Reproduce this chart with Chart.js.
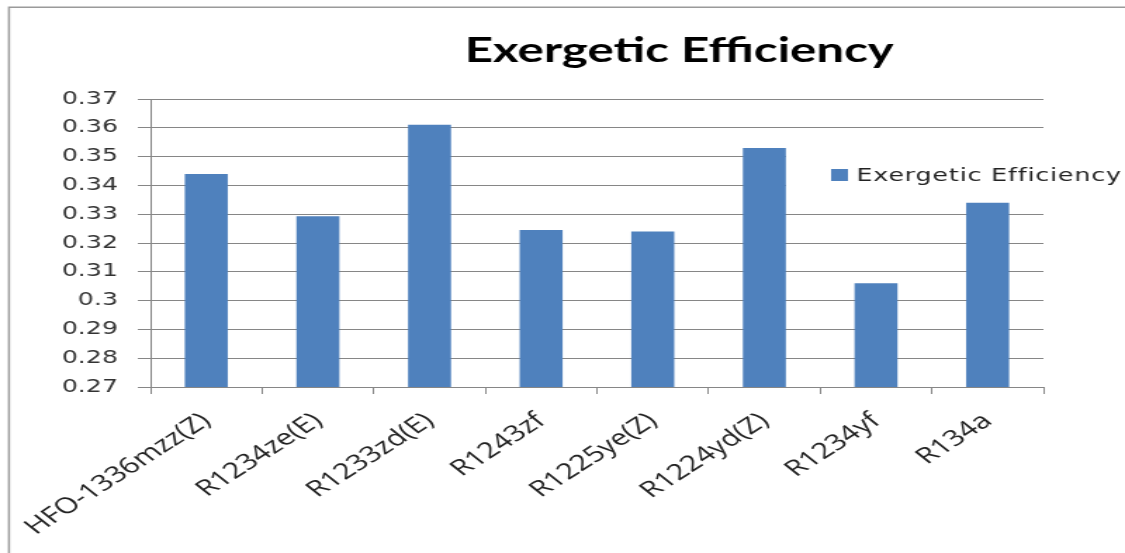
<!DOCTYPE html>
<html>
<head>
<meta charset="utf-8">
<script src="https://cdn.jsdelivr.net/npm/chart.js@4.4.1/dist/chart.umd.min.js"></script>
<style>
  html, body { margin: 0; padding: 0; background: #fff; }
</style>
</head>
<body>
<!-- drawn narrow then stretched, like the original picture -->
<canvas id="grafico" width="800" height="553" style="width:1125px;height:553px;display:block"></canvas>
<script>
const categorias = ['HFO-1336mzz(Z)', 'R1234ze(E)', 'R1233zd(E)', 'R1243zf', 'R1225ye(Z)', 'R1224yd(Z)', 'R1234yf', 'R134a'];
const eficiencia = [0.344, 0.3293, 0.3611, 0.3245, 0.324, 0.353, 0.306, 0.334];
const serieNome = 'Exergetic Efficiency';
const titulo = 'Exergetic Efficiency';
const yMin = 0.27;
const yMax = 0.37;
const yPasso = 0.01;

const cinza = '#868686';
const azul = '#4F81BD';

// moldura, caixa branca da legenda e titulo
const extras = {
  id: 'extras',
  beforeDatasetsDraw(chart) {
    const ctx = chart.ctx;
    ctx.save();
    ctx.fillStyle = '#fff';
    ctx.fillRect(559, 140, 241, 60);
    ctx.restore();
  },
  afterDraw(chart) {
    const ctx = chart.ctx;
    ctx.save();
    ctx.strokeStyle = '#9a9a9a';
    ctx.lineWidth = 1.5;
    ctx.beginPath();
    ctx.moveTo(6.4, 553);
    ctx.lineTo(6.4, 7.3);
    ctx.lineTo(800, 7.3);
    ctx.stroke();

    ctx.fillStyle = '#000';
    ctx.font = 'bold 35px Lato';
    ctx.textAlign = 'center';
    ctx.textBaseline = 'alphabetic';
    ctx.fillText(titulo, 483, 62);

    ctx.fillStyle = azul;
    ctx.fillRect(591, 169, 12, 12);
    ctx.fillStyle = '#222';
    ctx.font = '18px "DejaVu Sans"';
    ctx.textAlign = 'left';
    ctx.letterSpacing = '0.6px';
    ctx.fillText(serieNome, 609, 181);
    ctx.restore();
  }
};

new Chart(document.getElementById('grafico').getContext('2d'), {
  type: 'bar',
  data: {
    labels: categorias,
    datasets: [{
      label: serieNome,
      data: eficiencia,
      backgroundColor: azul,
      barPercentage: 0.385,
      categoryPercentage: 1
    }]
  },
  options: {
    responsive: false,
    devicePixelRatio: 1,
    animation: false,
    layout: { padding: { top: 99, right: 58, bottom: 0, left: 0 } },
    plugins: {
      legend: { display: false },
      title: { display: false },
      tooltip: { enabled: false }
    },
    scales: {
      x: {
        afterFit(scale) { scale.height = 166; },
        grid: { drawOnChartArea: false, offset: true, tickLength: 7, color: cinza },
        border: { color: cinza },
        ticks: {
          minRotation: 42, maxRotation: 42, padding: 14,
          color: '#222',
          font: { family: '"Open Sans"', size: 22 }
        }
      },
      y: {
        min: yMin,
        max: yMax,
        afterFit(scale) { scale.width = 107; },
        grid: { color: cinza, tickLength: 9 },
        border: { color: cinza },
        ticks: {
          stepSize: yPasso,
          padding: 14,
          color: '#333',
          font: { family: '"DejaVu Sans"', size: 18 },
          callback: v => String(+v.toFixed(2))
        }
      }
    }
  },
  plugins: [extras]
});
</script>
</body>
</html>
